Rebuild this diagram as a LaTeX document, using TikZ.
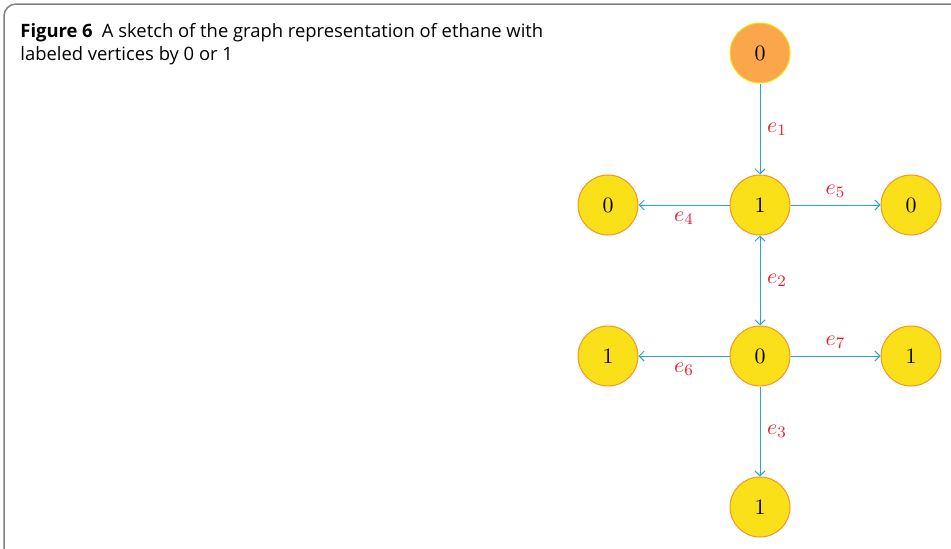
\documentclass[tikz,border=0pt]{standalone}
\usepackage{amsmath}
\usepackage{fontspec}
\setsansfont{Open Sans}
\usepackage{tikz}
\usetikzlibrary{arrows.meta}
\definecolor{edgeblue}{RGB}{38,166,214}
\definecolor{labelred}{RGB}{235,30,45}
\definecolor{vyellow}{RGB}{250,224,24}
\definecolor{vborder}{RGB}{242,150,35}
\definecolor{vorange}{RGB}{250,166,75}
\definecolor{framegray}{RGB}{128,128,128}
\begin{document}
\begin{tikzpicture}[x=0.5pt,y=-0.5pt,
          >={Straight Barb[length=2.5pt,width=5pt]},
          vertex/.style={circle,draw=vborder,fill=vyellow,line width=0.5pt,minimum size=30pt,inner sep=0pt,font=\fontsize{10.5}{12}\selectfont},
          root/.style={vertex,draw=vyellow,fill=vorange},
          bond/.style={draw=edgeblue,line width=0.5pt,->},
          elabel/.style={text=labelred,font=\fontsize{11}{13}\selectfont}]
          \useasboundingbox (0,0) rectangle (951,548);
          \draw [framegray,line width=0.75pt,rounded corners=6pt]
          (953,4)--(4,4)--(4,550);
          \node[anchor=north west,align=left,inner sep=0pt,font=\sffamily\fontsize{9.2}{11.5}\selectfont] (caption) at (20,23)
          {\textbf{Figure 6}\enspace A sketch of the graph representation of ethane with\\labeled vertices by 0 or 1};
          \node[root] (top) at (760,53) {$0$};
          \node[vertex] (c1) at (760,205) {$1$};
          \node[vertex] (h1) at (608,205) {$0$};
          \node[vertex] (h2) at (911,205) {$0$};
          \node[vertex] (c2) at (760,356) {$0$};
          \node[vertex] (h3) at (608,356) {$1$};
          \node[vertex] (h4) at (911,356) {$1$};
          \node[vertex] (h5) at (760,507) {$1$};
          \draw [bond] (top)--(c1) node[elabel,midway,right]{$e_1$};
          \draw [bond,<->] (c1)--(c2) node[elabel,midway,right]{$e_2$};
          \draw [bond] (c2)--(h5) node[elabel,midway,right]{$e_3$};
          \draw [bond] (c1)--(h1) node[elabel,midway,below]{$e_4$};
          \draw [bond] (c1)--(h2) node[elabel,midway,above]{$e_5$};
          \draw [bond] (c2)--(h3) node[elabel,midway,below]{$e_6$};
          \draw [bond] (c2)--(h4) node[elabel,midway,above]{$e_7$};
        \end{tikzpicture}
\end{document}
